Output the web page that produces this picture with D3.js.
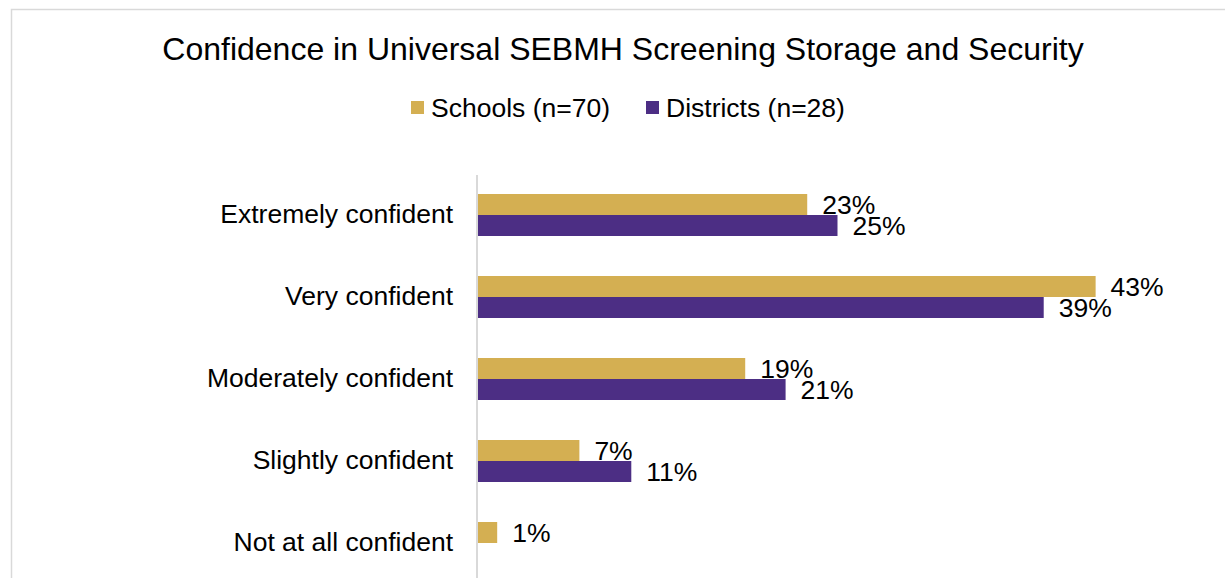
<!DOCTYPE html>
<html>
<head>
<meta charset="utf-8">
<script src="https://cdn.jsdelivr.net/npm/d3@7"></script>
<style>
  html, body { margin: 0; padding: 0; background: #fff; }
  svg { display: block; font-family: "Liberation Sans", Arial, sans-serif; }
</style>
</head>
<body>
<svg id="chart" width="1225" height="578"></svg>
<script>
const categories = ["Extremely confident", "Very confident", "Moderately confident", "Slightly confident", "Not at all confident"];
const seriesNames = ["Schools (n=70)", "Districts (n=28)"];
const schools = [22.9, 42.9, 18.6, 7.1, 1.4];
const districts = [25.0, 39.3, 21.4, 10.7, null];
const colors = ["#D4AF52", "#4C2E84"];
const title = "Confidence in Universal SEBMH Screening Storage and Security";

const svg = d3.select("#chart");
const W = 1225, H = 578;

// outer border
svg.append("rect").attr("x", 11.5).attr("y", 9.5).attr("width", W).attr("height", H)
  .attr("fill", "none").attr("stroke", "#d9d9d9").attr("stroke-width", 1.5);

// title
svg.append("text").attr("x", 623).attr("y", 59.5).attr("text-anchor", "middle")
  .attr("font-size", 32).attr("fill", "#000").text(title);

const plotLeft = 477;
const x = d3.scaleLinear().domain([0, 50]).range([plotLeft, plotLeft + 50 * 14.42]);
const y = d3.scaleBand().domain(categories).range([174, 584]).paddingInner(40 / 82).paddingOuter(20 / 82);
const ySub = d3.scaleBand().domain(seriesNames).range([0, y.bandwidth()]);

// legend
const legend = svg.append("g");
const legendItems = [{ name: seriesNames[0], x: 411 }, { name: seriesNames[1], x: 646 }];
legendItems.forEach((d, i) => {
  legend.append("rect").attr("x", d.x).attr("y", 101).attr("width", 13).attr("height", 13).attr("fill", colors[i]);
  legend.append("text").attr("x", d.x + 20).attr("y", 117).attr("font-size", 26.5).attr("fill", "#000").text(d.name);
});

const data = [schools, districts];
data.forEach((vals, si) => {
  const g = svg.append("g");
  categories.forEach((c, ci) => {
    const v = vals[ci];
    if (v == null) return;
    const by = y(c) + ySub(seriesNames[si]);
    g.append("rect").attr("x", x(0)).attr("y", by).attr("width", x(v) - x(0)).attr("height", ySub.bandwidth())
      .attr("fill", colors[si]);
    g.append("text").attr("x", x(v) + 15).attr("y", by + ySub.bandwidth() / 2)
      .attr("dy", "0.35em").attr("font-size", 26.5).attr("fill", "#000")
      .text(Math.round(v) + "%");
  });
});

// category axis
const axis = d3.axisLeft(y).tickSize(0).tickPadding(24);
const ag = svg.append("g").attr("transform", `translate(${plotLeft},0)`).call(axis);
ag.select(".domain").remove();
ag.selectAll("text").attr("font-size", 26.5).attr("fill", "#000").attr("font-family", "Liberation Sans, Arial, sans-serif");
svg.append("line").attr("x1", plotLeft).attr("x2", plotLeft).attr("y1", 175).attr("y2", H)
  .attr("stroke", "#d9d9d9").attr("stroke-width", 2);
</script>
</body>
</html>
